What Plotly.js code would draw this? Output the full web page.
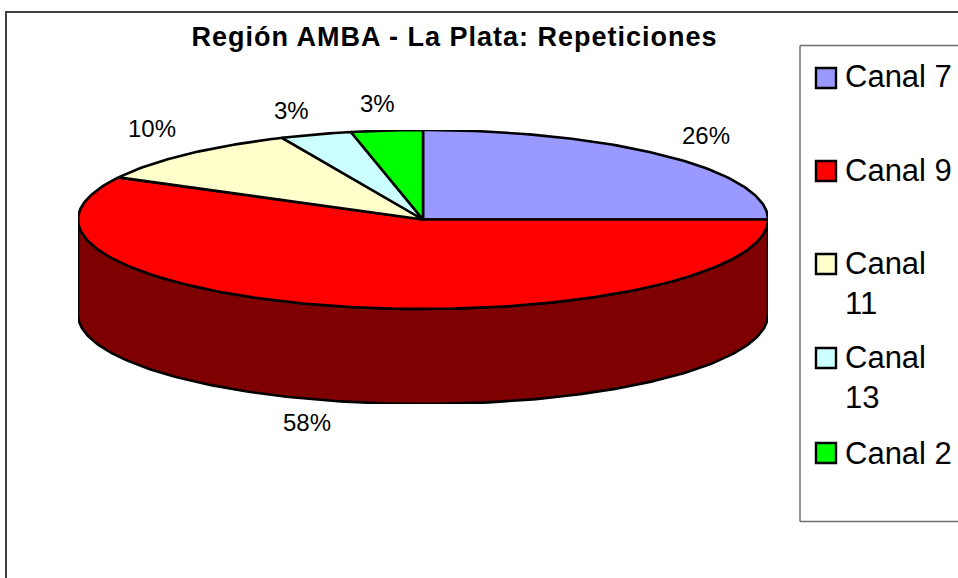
<!DOCTYPE html>
<html>
<head>
<meta charset="utf-8">
<script src="https://cdn.plot.ly/plotly-3.0.1.min.js"></script>
<style>html,body{margin:0;padding:0;background:#fff;overflow:hidden}#chart{width:958px;height:578px}</style>
</head>
<body>
<div id="chart"></div>
<script>
// Data
var categories = ['Canal 7', 'Canal 9', 'Canal 11', 'Canal 13', 'Canal 2'];
var legendTexts = ['Canal 7', 'Canal 9', 'Canal<br>11', 'Canal<br>13', 'Canal 2'];
var sliceShares = [25, 57.8, 10.5, 3.35, 3.35];
var percentLabels = ['26%', '58%', '10%', '3%', '3%'];
var sliceColors = ['#9999FF', '#FF0000', '#FFFFCC', '#CCFFFF', '#00FF00'];
var wallColors = ['#4C4C80', '#7F0000', '#80805F', '#5F8080', '#007F00'];

// Layout constants (page pixels)
var W = 958, H = 578;
var pie = {left: 78, right: 768, top: 130, rimBottom: 309, wallBottom: 404};
var labelX = [706, 307, 152, 291, 377];
var labelY = [135, 422, 128, 110, 104];
var keyY = [78, 171, 264, 358, 453];
var textY = [76, 170, 283, 377, 453];

function px(v) { return v / W; }
function py(v) { return 1 - v / H; }

var ry = (pie.rimBottom - pie.top) / 2;
var depth = (pie.wallBottom - pie.rimBottom) / ry;

function arc(a, b, dy) {
  var xs = [], ys = [], n = Math.max(2, Math.ceil(Math.abs(b - a) * 60));
  for (var i = 0; i <= n; i++) {
    var t = a + (b - a) * i / n;
    xs.push(Math.sin(t)); ys.push(Math.cos(t) - dy);
  }
  return {x: xs, y: ys};
}

var total = sliceShares.reduce(function (s, v) { return s + v; }, 0);
var walls = [], tops = [], start = 0;
sliceShares.forEach(function (v, i) {
  var end = start + v / total * 2 * Math.PI;
  var lo = Math.max(start, Math.PI / 2), hi = Math.min(end, 3 * Math.PI / 2);
  if (hi > lo) {
    var up = arc(lo, hi, 0), down = arc(hi, lo, depth);
    walls.push({
      type: 'scatter', mode: 'lines', fill: 'toself', fillcolor: wallColors[i],
      x: up.x.concat(down.x, [up.x[0]]), y: up.y.concat(down.y, [up.y[0]]),
      line: {color: '#000', width: 2.6}, hoverinfo: 'skip', showlegend: false, name: categories[i] + ' (lado)'
    });
  }
  var rim = arc(start, end, 0);
  tops.push({
    type: 'scatter', mode: 'lines', fill: 'toself', fillcolor: sliceColors[i],
    x: [0].concat(rim.x, [0]), y: [0].concat(rim.y, [0]),
    line: {color: '#000', width: 2.6}, name: categories[i],
    hovertemplate: categories[i] + ': ' + percentLabels[i] + '<extra></extra>', showlegend: false
  });
  start = end;
});

var font = 'Liberation Sans, Arial, sans-serif';
var annotations = [];
percentLabels.forEach(function (t, i) {
  annotations.push({xref: 'paper', yref: 'paper', x: px(labelX[i]), y: py(labelY[i]), text: t, showarrow: false,
    xanchor: 'center', yanchor: 'middle', font: {family: font, size: 24, color: '#000'}});
});
legendTexts.forEach(function (t, i) {
  annotations.push({xref: 'paper', yref: 'paper', x: px(843), y: py(textY[i]), text: t, showarrow: false,
    xanchor: 'left', yanchor: 'middle', align: 'left', font: {family: font, size: 31, color: '#000'}});
});

var shapes = [
  {type: 'line', xref: 'paper', yref: 'paper', x0: px(6), x1: px(6), y0: py(11), y1: py(H), line: {color: '#404040', width: 2}},
  {type: 'line', xref: 'paper', yref: 'paper', x0: px(5), x1: px(W), y0: py(12), y1: py(12), line: {color: '#404040', width: 2}},
  {type: 'line', xref: 'paper', yref: 'paper', x0: px(800), x1: px(800), y0: py(45.5), y1: py(521.5), line: {color: '#707070', width: 1.5}},
  {type: 'line', xref: 'paper', yref: 'paper', x0: px(800), x1: px(W), y0: py(45.5), y1: py(45.5), line: {color: '#707070', width: 1.5}},
  {type: 'line', xref: 'paper', yref: 'paper', x0: px(800), x1: px(W), y0: py(521.5), y1: py(521.5), line: {color: '#707070', width: 1.5}}
];
sliceColors.forEach(function (c, i) {
  shapes.push({type: 'rect', xref: 'paper', yref: 'paper', x0: px(816), x1: px(836), y0: py(keyY[i] - 10), y1: py(keyY[i] + 10),
    fillcolor: c, line: {color: '#000', width: 2.4}});
});

var layout = {
  width: W, height: H,
  margin: {l: 0, r: 0, t: 0, b: 0, pad: 0},
  paper_bgcolor: '#fff', plot_bgcolor: 'rgba(0,0,0,0)',
  showlegend: false,
  title: {text: '<b>Región AMBA - La Plata: Repeticiones</b>', x: px(454.5), xref: 'paper', xanchor: 'center',
    y: py(37), yref: 'paper', yanchor: 'middle', font: {family: font, size: 27, color: '#000'}},
  xaxis: {domain: [px(pie.left), px(pie.right)], range: [-1, 1], visible: false, fixedrange: true},
  yaxis: {domain: [py(pie.wallBottom), py(pie.top)], range: [-1 - depth, 1], visible: false, fixedrange: true},
  annotations: annotations,
  shapes: shapes
};

Plotly.newPlot('chart', walls.concat(tops), layout, {displayModeBar: false}).then(function () {
  var t = document.querySelector('.gtitle');
  if (t) { t.style.letterSpacing = '1px'; }
});
</script>
</body>
</html>
